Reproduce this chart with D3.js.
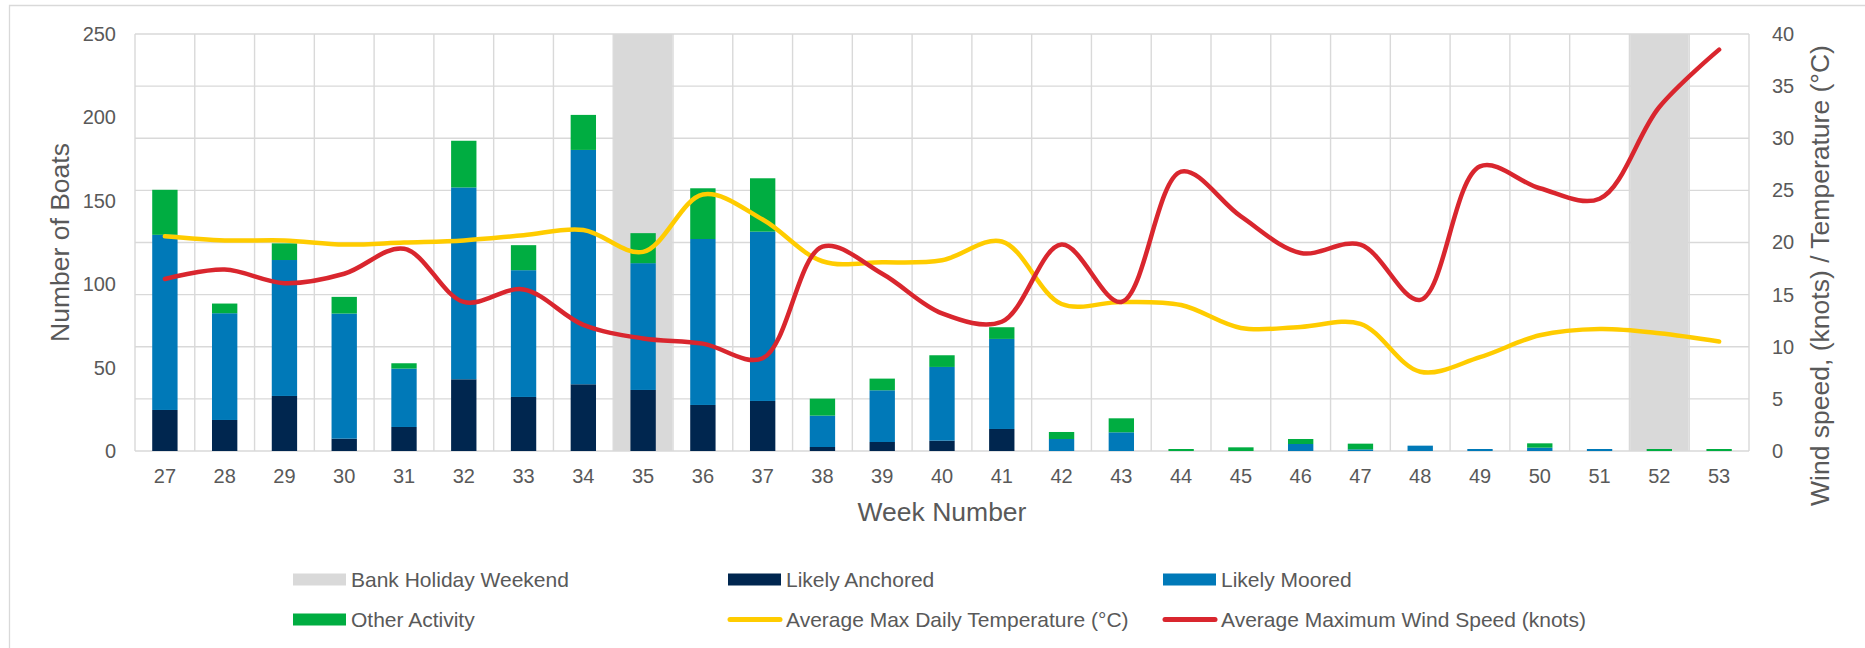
<!DOCTYPE html>
<html>
<head>
<meta charset="utf-8">
<script src="https://cdn.jsdelivr.net/npm/d3@7"></script>
<style>
  body { margin: 0; background: #ffffff; }
  text { font-family: "Liberation Sans", Arial, sans-serif; fill: #595959; }
</style>
</head>
<body>
<div id="chart"></div>
<script>
// Week numbers on the x axis
var weeks = [27, 28, 29, 30, 31, 32, 33, 34, 35, 36, 37, 38, 39, 40, 41, 42, 43, 44, 45, 46, 47, 48, 49, 50, 51, 52, 53];

// Boat counts (stacked bars, left axis)
var likelyAnchored = [24.6, 18.6, 33, 7.4, 14.4, 43, 32.4, 40, 36.6, 27.6, 30, 2.4, 5.4, 6.2, 13.2, 0, 0, 0, 0, 0, 0, 0, 0, 0, 0, 0, 0];
var likelyMoored = [105, 64, 81.5, 75, 35, 115, 76, 140.5, 76, 99.5, 101.5, 18.8, 31, 44.2, 54, 7.2, 11.2, 0, 0, 4.2, 1, 3.2, 1.2, 2, 1.2, 0, 0];
var otherActivity = [27, 5.8, 10, 10, 3.2, 28, 15, 21, 18, 30.4, 32, 10.2, 7, 7, 7, 4.2, 8.4, 1.2, 2.2, 3, 3.4, 0, 0, 2.6, 0, 1.2, 1.2];

// Weather lines (right axis)
var maxTemperature = [20.6, 20.2, 20.2, 19.8, 20.0, 20.2, 20.7, 21.2, 19.1, 24.6, 22.2, 18.2, 18.1, 18.3, 20.1, 14.1, 14.3, 14.0, 11.8, 11.9, 12.2, 7.6, 9.0, 11.1, 11.7, 11.3, 10.5];
var maxWindSpeed = [16.5, 17.4, 16.1, 17.0, 19.4, 14.3, 15.5, 12.1, 10.8, 10.3, 8.9, 19.6, 17.0, 13.2, 12.4, 19.8, 14.3, 26.8, 22.5, 19.0, 19.8, 14.5, 27.3, 25.2, 24.2, 33.0, 38.5];

// Bank holiday weekends (shaded columns)
var bankHolidayWeeks = [35, 52];

// Axis ticks
var leftTicks = [0, 50, 100, 150, 200, 250];
var rightTicks = [0, 5, 10, 15, 20, 25, 30, 35, 40];

var width = 1865;
var height = 648;

var colors = {
  bank: "#d9d9d9",
  anchored: "#00264f",
  moored: "#0079b8",
  other: "#00ad41",
  temp: "#ffcc00",
  wind: "#d9262e",
  grid: "#d9d9d9"
};

var svg = d3.select("#chart")
  .append("svg")
  .attr("width", width)
  .attr("height", height);

// chart border (only top and left visible)
svg.append("path")
  .attr("d", "M9.5,648 L9.5,5.5 L1865,5.5")
  .attr("fill", "none")
  .attr("stroke", "#d9d9d9")
  .attr("stroke-width", 1.3);

// scales
var x = d3.scaleBand()
  .domain(weeks)
  .range([135, 1749])
  .padding(0);

var yLeft = d3.scaleLinear().domain([0, 250]).range([451, 34]);
var yRight = d3.scaleLinear().domain([0, 40]).range([451, 34]);

var bw = x.bandwidth();
var barW = bw * 0.424;

// gridlines follow the right axis
svg.append("g")
  .selectAll("line")
  .data(rightTicks)
  .enter()
  .append("line")
  .attr("x1", 135)
  .attr("x2", 1749)
  .attr("y1", function(d) { return yRight(d); })
  .attr("y2", function(d) { return yRight(d); })
  .attr("stroke", colors.grid)
  .attr("stroke-width", 1.4);

var edges = weeks.map(function(w) { return x(w); }).concat([1749]);
svg.append("g")
  .selectAll("line")
  .data(edges)
  .enter()
  .append("line")
  .attr("x1", function(d) { return d; })
  .attr("x2", function(d) { return d; })
  .attr("y1", 34)
  .attr("y2", 451)
  .attr("stroke", colors.grid)
  .attr("stroke-width", 1.4);

// bank holiday shading
svg.append("g")
  .selectAll("rect")
  .data(bankHolidayWeeks)
  .enter()
  .append("rect")
  .attr("x", function(d) { return x(d) + 0.7; })
  .attr("width", bw - 1.4)
  .attr("y", yLeft(250))
  .attr("height", yLeft(0) - yLeft(250))
  .attr("fill", colors.bank);

// stacked bars
var rows = weeks.map(function(w, i) {
  return { week: w, anchored: likelyAnchored[i], moored: likelyMoored[i], other: otherActivity[i] };
});
var keys = ["anchored", "moored", "other"];
var stack = d3.stack().keys(keys);

svg.append("g")
  .selectAll("g")
  .data(stack(rows))
  .enter()
  .append("g")
  .attr("fill", function(d) { return colors[d.key]; })
  .selectAll("rect")
  .data(function(d) { return d; })
  .enter()
  .append("rect")
  .attr("x", function(d) { return x(d.data.week) + (bw - barW) / 2; })
  .attr("width", barW)
  .attr("y", function(d) { return yLeft(d[1]); })
  .attr("height", function(d) { return yLeft(d[0]) - yLeft(d[1]); });

// smoothed lines
var line = d3.line()
  .x(function(d, i) { return x(weeks[i]) + bw / 2; })
  .y(function(d) { return yRight(d); })
  .curve(d3.curveCatmullRom.alpha(0.5));

svg.append("path")
  .datum(maxTemperature)
  .attr("d", line)
  .attr("fill", "none")
  .attr("stroke", colors.temp)
  .attr("stroke-width", 4.5)
  .attr("stroke-linecap", "round")
  .attr("stroke-linejoin", "round");

svg.append("path")
  .datum(maxWindSpeed)
  .attr("d", line)
  .attr("fill", "none")
  .attr("stroke", colors.wind)
  .attr("stroke-width", 4.5)
  .attr("stroke-linecap", "round")
  .attr("stroke-linejoin", "round");

// left axis
var leftAxis = svg.append("g")
  .attr("transform", "translate(116,0)")
  .call(d3.axisLeft(yLeft).tickValues(leftTicks).tickSize(0).tickPadding(0));
leftAxis.select(".domain").remove();
leftAxis.selectAll("text").style("font-size", "20px").attr("fill", "#595959");

// right axis
var rightAxis = svg.append("g")
  .attr("transform", "translate(1772,0)")
  .call(d3.axisRight(yRight).tickValues(rightTicks).tickSize(0).tickPadding(0));
rightAxis.select(".domain").remove();
rightAxis.selectAll("text").style("font-size", "20px").attr("fill", "#595959");

// bottom axis
var bottomAxis = svg.append("g")
  .attr("transform", "translate(0,451)")
  .call(d3.axisBottom(x).tickSize(0).tickPadding(18));
bottomAxis.select(".domain").remove();
bottomAxis.selectAll("text").style("font-size", "20px").attr("fill", "#595959");

// axis titles
svg.append("text")
  .attr("transform", "translate(68.5,242.5) rotate(-90)")
  .attr("text-anchor", "middle")
  .style("font-size", "26.5px")
  .text("Number of Boats");

svg.append("text")
  .attr("transform", "translate(1829,275.5) rotate(-90)")
  .attr("text-anchor", "middle")
  .style("font-size", "26.5px")
  .text("Wind speed, (knots) / Temperature (°C)");

svg.append("text")
  .attr("x", 942)
  .attr("y", 520.5)
  .attr("text-anchor", "middle")
  .style("font-size", "26.5px")
  .text("Week Number");

// legend
var legendItems = [
  { label: "Bank Holiday Weekend", color: colors.bank, type: "box" },
  { label: "Likely Anchored", color: colors.anchored, type: "box" },
  { label: "Likely Moored", color: colors.moored, type: "box" },
  { label: "Other Activity", color: colors.other, type: "box" },
  { label: "Average Max Daily Temperature (°C)", color: colors.temp, type: "line" },
  { label: "Average Maximum Wind Speed (knots)", color: colors.wind, type: "line" }
];

var legend = svg.append("g")
  .selectAll("g")
  .data(legendItems)
  .enter()
  .append("g")
  .attr("transform", function(d, i) {
    return "translate(" + (293 + (i % 3) * 435) + "," + (579.5 + Math.floor(i / 3) * 40) + ")";
  });

legend.filter(function(d) { return d.type === "box"; })
  .append("rect")
  .attr("x", 0)
  .attr("y", -6)
  .attr("width", 53)
  .attr("height", 12)
  .attr("fill", function(d) { return d.color; });

legend.filter(function(d) { return d.type === "line"; })
  .append("line")
  .attr("x1", 2)
  .attr("x2", 52)
  .attr("y1", 0)
  .attr("y2", 0)
  .attr("stroke", function(d) { return d.color; })
  .attr("stroke-width", 5)
  .attr("stroke-linecap", "round");

legend.append("text")
  .attr("x", 58)
  .attr("y", 7.5)
  .style("font-size", "21px")
  .text(function(d) { return d.label; });
</script>
</body>
</html>
